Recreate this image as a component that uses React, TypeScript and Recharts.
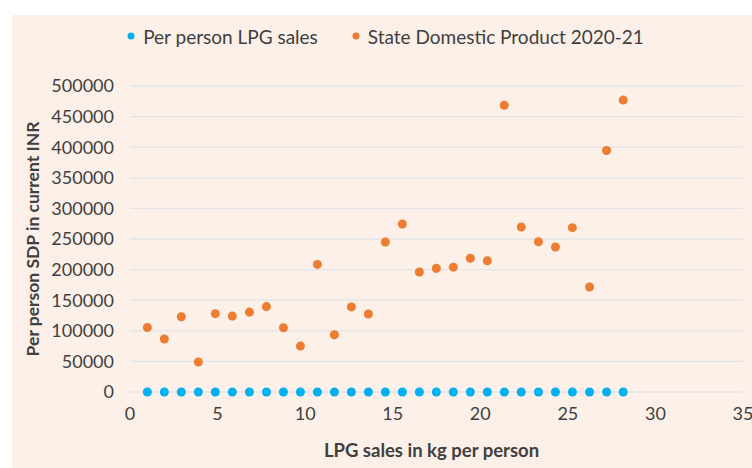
import { CartesianGrid, Legend, Scatter, ScatterChart, XAxis, YAxis, ZAxis } from "recharts";

// x positions of the 29 states (kg per person)
const LPG_KG = [
  0.99, 1.96, 2.93, 3.9, 4.87, 5.84, 6.82, 7.79, 8.76, 9.73, 10.7, 11.67, 12.64, 13.61, 14.58,
  15.55, 16.52, 17.49, 18.46, 19.43, 20.4, 21.37, 22.34, 23.32, 24.29, 25.26, 26.24, 27.21, 28.16,
];

// the LPG series sits on the zero line at this scale
const LPG_SALES = [
  0, 0, 0, 0, 0, 0, 0, 0, 0, 0, 0, 0, 0, 0, 0, 0, 0, 0, 0, 0, 0, 0, 0, 0, 0, 0, 0, 0, 0,
];

const SDP_2020_21 = [
  105500, 86500, 123000, 49000, 128000, 124000, 130500, 139500, 105000, 75000, 208500, 93500,
  139000, 127500, 245000, 274500, 196000, 202000, 204000, 218500, 214500, 468500, 269500, 245500,
  237000, 268500, 171500, 394500, 477000,
];

const X_TICKS = [0, 5, 10, 15, 20, 25, 30, 35];
const Y_TICKS = [0, 50000, 100000, 150000, 200000, 250000, 300000, 350000, 400000, 450000, 500000];

const FONT = "Lato, 'Open Sans', sans-serif";
const TEXT = "#404040";
const BLUE = "#00B0F0";
const ORANGE = "#ED7D31";

const lpgPoints = LPG_KG.map((x, i) => ({ x, y: LPG_SALES[i] }));
const sdpPoints = LPG_KG.map((x, i) => ({ x, y: SDP_2020_21[i] }));

function LegendContent({ payload }: { payload?: Array<{ value: string; color: string }> }) {
  return (
    <div
      style={{
        height: 66,
        paddingTop: 4,
        paddingLeft: 8,
        boxSizing: "border-box",
        display: "flex",
        justifyContent: "center",
        gap: 34,
        fontFamily: FONT,
        fontSize: 19,
        color: TEXT,
      }}
    >
      {(payload ?? []).map((p) => (
        <div key={p.value} style={{ display: "flex", alignItems: "center", height: 24 }}>
          <svg width={8} height={8} style={{ marginRight: 8 }}>
            <circle cx={4} cy={4} r={3.5} fill={p.color} />
          </svg>
          <span>{p.value}</span>
        </div>
      ))}
    </div>
  );
}

export default function App() {
  return (
    <div style={{ position: "absolute", left: 0, top: 0, width: 752, height: 468, background: "#fff" }}>
      <div style={{ position: "absolute", left: 12, top: 15, right: 0, bottom: 0, background: "#FDF0E8" }} />
      <div style={{ position: "absolute", left: 0, top: 0 }}>
        <ScatterChart width={752} height={468} margin={{ top: 20, right: 9, bottom: 6, left: 20 }}>
          <CartesianGrid vertical={false} stroke="#E2E4E8" strokeWidth={1.3} />
          <XAxis
            type="number"
            dataKey="x"
            domain={[0, 35]}
            ticks={X_TICKS}
            interval={0}
            height={70}
            axisLine={false}
            tickLine={false}
            tickMargin={9}
            tick={{ fill: TEXT, fontSize: 18, fontFamily: FONT }}
            label={{
              value: "LPG sales in kg per person",
              position: "insideBottom",
              offset: 5,
              dx: -5,
              style: { fill: TEXT, fontSize: 18.5, fontWeight: 700, fontFamily: FONT },
            }}
          />
          <YAxis
            type="number"
            dataKey="y"
            domain={[0, 500000]}
            ticks={Y_TICKS}
            interval={0}
            width={110}
            axisLine={false}
            tickLine={false}
            tickMargin={10}
            tick={{ fill: TEXT, fontSize: 18, fontFamily: FONT }}
            label={{
              value: "Per person SDP in current INR",
              angle: -90,
              position: "insideLeft",
              offset: 13,
              style: { fill: TEXT, fontSize: 17.5, fontWeight: 700, fontFamily: FONT, textAnchor: "middle" },
            }}
          />
          <ZAxis range={[32, 32]} />
          <Legend verticalAlign="top" content={<LegendContent />} />
          <Scatter name="Per person LPG sales" data={lpgPoints} fill={BLUE} isAnimationActive={false} />
          <Scatter name="State Domestic Product 2020-21" data={sdpPoints} fill={ORANGE} isAnimationActive={false} />
        </ScatterChart>
      </div>
    </div>
  );
}
